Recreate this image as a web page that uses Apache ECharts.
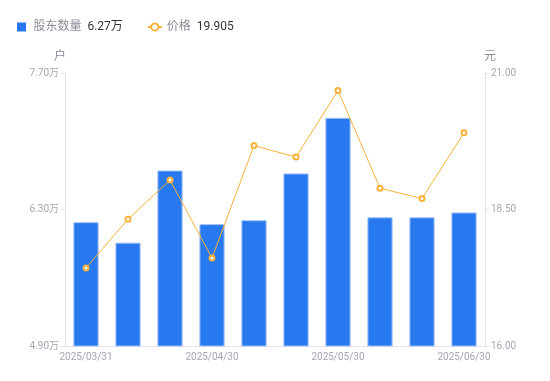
<!DOCTYPE html>
<html><head><meta charset="utf-8">
<script src="https://cdn.jsdelivr.net/npm/echarts@6/dist/echarts.min.js"></script>
<style>html,body{margin:0;padding:0;background:#fff}#c{width:550px;height:381px}</style>
</head><body><div id="c"></div>
<script>
const categories = ['2025/03/31','2025/04/10','2025/04/20','2025/04/30','2025/05/10','2025/05/20','2025/05/30','2025/06/10','2025/06/20','2025/06/30'];
const holders = [6.17, 5.96, 6.70, 6.15, 6.19, 6.67, 7.24, 6.22, 6.22, 6.27];
const prices = [17.43, 18.32, 19.04, 17.61, 19.67, 19.46, 20.68, 18.89, 18.70, 19.905];
const leftTicks = { min: 4.9, max: 7.7, interval: 1.4 };
const rightTicks = { min: 16, max: 21, interval: 2.5 };

const chart = echarts.init(document.getElementById('c'), null, {renderer:'canvas'});
const lastH = holders[holders.length-1].toFixed(2) + '万';
const lastP = prices[prices.length-1].toFixed(3);
const axisLabelColor = '#a3a6b4';
chart.setOption({
  animation: false,
  textStyle: { fontFamily: 'Roboto, "Noto Sans CJK SC", sans-serif' },
  legend: {
    left: 12, top: 16, itemWidth: 14, itemHeight: 9, itemGap: 24, symbolKeepAspect: true,
    data: [{name:'股东数量', icon:'path://M0,0L10,0L10,10L0,10Z', itemStyle: { borderWidth: 0, color: '#2878f0' }}, {name:'价格'}],
    formatter: function(n){ return n === '股东数量' ? '{n|' + n + '}  {v|' + lastH + '}' : '{n|' + n + '}  {v|' + lastP + '}'; },
    textStyle: { rich: { n: { color: '#8a8d99', fontSize: 12 }, v: { color: '#333', fontSize: 12 } } }
  },
  grid: { left: 65, right: 65, top: 73, bottom: 35 },
  xAxis: {
    type: 'category', data: categories,
    axisLine: { lineStyle: { color: '#e3e3e3' } },
    axisTick: { show: false },
    axisLabel: { color: axisLabelColor, fontSize: 10, interval: 2, margin: 6 }
  },
  yAxis: [{
    type: 'value', name: '户', min: leftTicks.min, max: leftTicks.max, interval: leftTicks.interval,
    nameTextStyle: { color: '#8a8d99', fontSize: 12, padding: [0, 10, 0, 0] }, nameGap: 10,
    axisLine: { show: true, lineStyle: { color: '#e3e3e3' } },
    axisTick: { show: true, length: 4, lineStyle: { color: '#e3e3e3' } },
    splitLine: { show: false },
    axisLabel: { color: axisLabelColor, fontSize: 10, margin: 6, formatter: v => v.toFixed(2) + '万' }
  }, {
    type: 'value', name: '元', min: rightTicks.min, max: rightTicks.max, interval: rightTicks.interval,
    nameTextStyle: { color: '#8a8d99', fontSize: 12, padding: [0, 0, 0, 10] }, nameGap: 10,
    axisLine: { show: true, lineStyle: { color: '#e3e3e3' } },
    axisTick: { show: true, length: 4, lineStyle: { color: '#e3e3e3' } },
    splitLine: { show: false },
    axisLabel: { color: axisLabelColor, fontSize: 10, margin: 6, formatter: v => v.toFixed(2) }
  }],
  series: [{
    name: '股东数量', type: 'bar', data: holders, yAxisIndex: 0, barWidth: '60%',
    itemStyle: { color: '#2878f0', borderColor: '#9ec0f7', borderWidth: 1 }
  }, {
    name: '价格', type: 'line', data: prices, yAxisIndex: 1,
    symbol: 'emptyCircle', symbolSize: 5,
    lineStyle: { color: '#f7b23b', width: 1 },
    itemStyle: { color: '#f7b23b', borderWidth: 2 }
  }]
});
</script></body></html>
